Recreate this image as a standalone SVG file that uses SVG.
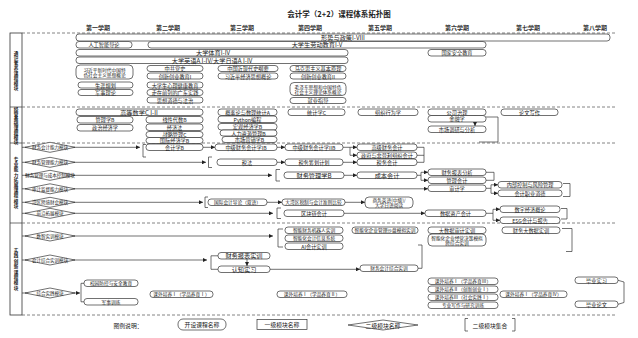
<svg xmlns="http://www.w3.org/2000/svg" width="638" height="338" viewBox="0 0 638 338">
<defs>
<style>
.b{fill:#fff;stroke:#333;stroke-width:0.7}
.t{font-family:"Noto Sans CJK SC","Liberation Sans",sans-serif;font-size:5.2px;fill:#222;text-anchor:middle;dominant-baseline:central}
.l{fill:none;stroke:#333;stroke-width:0.7}
.a{fill:none;stroke:#333;stroke-width:0.7;marker-end:url(#ah)}
.d{fill:none;stroke:#666;stroke-width:0.8;stroke-dasharray:3 2}
.dm{fill:#fff;stroke:#333;stroke-width:0.7}
.dt{font-size:4.5px}
.h{font-size:6px;font-weight:bold;fill:#333}
.s{font-size:4.6px;font-weight:bold}
.m{font-size:6.2px}
.n{font-size:4.7px}
</style>
<marker id="ah" markerWidth="4" markerHeight="4" refX="4" refY="2" orient="auto" markerUnits="userSpaceOnUse"><path d="M0,0L4,2L0,4z" fill="#222"/></marker>
</defs>
<rect width="638" height="338" fill="#fff"/>
<text class="t" x="339" y="13" style="font-size:7.5px;font-weight:bold">会计学（2+2）课程体系拓扑图</text>
<g id="semesters">
<text class="t h" x="98" y="27">第一学期</text>
<text class="t h" x="168" y="27">第二学期</text>
<text class="t h" x="242" y="27">第三学期</text>
<text class="t h" x="310" y="27">第四学期</text>
<text class="t h" x="380" y="27">第五学期</text>
<text class="t h" x="457" y="27">第六学期</text>
<text class="t h" x="528" y="27">第七学期</text>
<text class="t h" x="595" y="27">第八学期</text>
</g>
<g id="frame">
<rect x="10" y="33" width="12" height="282" fill="none" stroke="#333" stroke-width="0.8"/>
<line x1="10" y1="107" x2="22" y2="107" class="l"/>
<line x1="10" y1="143" x2="22" y2="143" class="l"/>
<line x1="10" y1="223" x2="22" y2="223" class="l"/>
<line x1="22" y1="33" x2="615" y2="33" class="d"/>
<line x1="22" y1="107" x2="615" y2="107" class="d"/>
<line x1="22" y1="143" x2="615" y2="143" class="d"/>
<line x1="22" y1="223" x2="615" y2="223" class="d"/>
<line x1="22" y1="315" x2="615" y2="315" class="d"/>
<text class="t s" x="16" y="53"><tspan x="16" dy="0">通</tspan><tspan x="16" dy="5">识</tspan><tspan x="16" dy="5">素</tspan><tspan x="16" dy="5">养</tspan><tspan x="16" dy="5">课</tspan><tspan x="16" dy="5">程</tspan><tspan x="16" dy="5">模</tspan><tspan x="16" dy="5">块</tspan></text>
<text class="t s" x="16" y="109"><tspan x="16" dy="0">经</tspan><tspan x="16" dy="4.7">管</tspan><tspan x="16" dy="4.7">基</tspan><tspan x="16" dy="4.7">础</tspan><tspan x="16" dy="4.7">课</tspan><tspan x="16" dy="4.7">程</tspan><tspan x="16" dy="4.7">模</tspan><tspan x="16" dy="4.7">块</tspan></text>
<text class="t s" x="16" y="159"><tspan x="16" dy="0">专</tspan><tspan x="16" dy="5.2">业</tspan><tspan x="16" dy="5.2">能</tspan><tspan x="16" dy="5.2">力</tspan><tspan x="16" dy="5.2">拓</tspan><tspan x="16" dy="5.2">展</tspan><tspan x="16" dy="5.2">课</tspan><tspan x="16" dy="5.2">程</tspan><tspan x="16" dy="5.2">模</tspan><tspan x="16" dy="5.2">块</tspan></text>
<text class="t s" x="16" y="250"><tspan x="16" dy="0">实</tspan><tspan x="16" dy="5.4">践</tspan><tspan x="16" dy="5.4">创</tspan><tspan x="16" dy="5.4">新</tspan><tspan x="16" dy="5.4">课</tspan><tspan x="16" dy="5.4">程</tspan><tspan x="16" dy="5.4">模</tspan><tspan x="16" dy="5.4">块</tspan></text>
</g>
<g id="connectors">
<path class="a" d="M22,147.3H140"/>
<path class="l" d="M146,144.5H143V157H146"/>
<path class="a" d="M203,147.3H215"/>
<path class="a" d="M277,147.3H285"/>
<path class="a" d="M343,147.3H357"/>
<path class="a" d="M350,147.3V155.3H357"/>
<path class="a" d="M22,162.3H206"/>
<path class="l" d="M212,157H208.5V167.5H212"/>
<path class="a" d="M277,162.3H285"/>
<path class="a" d="M343,162.3H357"/>
<path class="l" d="M417,147.3H424V162.3H417M417,155.3H424"/>
<path class="a" d="M22,175.3H272"/>
<path class="l" d="M280,169.5H276V181H280"/>
<path class="a" d="M344,175.3H357"/>
<path class="l" d="M417,175.3H421"/>
<path class="a" d="M421,172.3H428"/>
<path class="a" d="M421,175.3V180.3H428"/>
<path class="l" d="M421,175.3V172.3"/>
<path class="l" d="M486,172.3H494V180.3H486"/>
<path class="a" d="M22,188.8H428"/>
<path class="l" d="M486,188.3H491"/>
<path class="a" d="M491,188.3V184.8H498"/>
<path class="a" d="M491,188.3V193.3H498"/>
<path class="l" d="M563,183.5H570V196.5H563"/>
<path class="a" d="M22,202.3H203"/>
<path class="l" d="M208,197H205V207.5H208"/>
<path class="a" d="M267,202.3H282"/>
<path class="a" d="M345,202.3H365"/>
<path class="a" d="M22,213.3H273"/>
<path class="l" d="M281,208H277V218.5H281"/>
<path class="a" d="M344,213.3H425"/>
<path class="l" d="M486,213.3H493"/>
<path class="a" d="M493,213.3V209.3H500"/>
<path class="a" d="M493,213.3V220.3H500"/>
<path class="l" d="M561,208.5H567V219H561"/>
<path class="a" d="M475,115V126"/>
<path class="l" d="M486,117H498V142H479"/>
<path class="a" d="M22,236H273"/>
<path class="l" d="M283,229H278V247H283"/>
<path class="l" d="M562,228.5H572V251.5H566"/>
<path class="a" d="M22,260H207"/>
<path class="l" d="M218,255.8H211V269.3H218"/>
<path class="a" d="M247,259V266"/>
<path class="a" d="M270,269.3H360"/>
<path class="l" d="M418,268.3H422V245H418"/>
<path class="a" d="M22,293H80"/>
<path class="l" d="M84,283.3H81V301.8H84"/>
<path class="l" d="M618,280.3L624,282V302.5L618,304.3"/>
</g>
<g id="s1">
<g id="xszc"><rect class="b" x="76" y="34" width="534" height="7" rx="3"/><text class="t m" x="343" y="37.5">形势与政策I-VIII</text></g>
<g id="rgzn"><rect class="b" x="76" y="41.5" width="56" height="6.5" rx="3"/><text class="t" x="104" y="44.8">人工智能导论</text></g>
<g id="ldjy"><rect class="b" x="148" y="41.5" width="338" height="6.5" rx="3"/><text class="t m" x="317" y="44.8">大学生劳动教育I-V</text></g>
<g id="tiyu"><rect class="b" x="76" y="49.5" width="272" height="6.5" rx="3"/><text class="t m" x="213" y="52.8">大学体育I-IV</text></g>
<g id="gjaq"><rect class="b" x="428" y="49.5" width="58" height="6.5" rx="3"/><text class="t" x="457" y="52.8">国家安全教育</text></g>
<g id="yingyu"><rect class="b" x="76" y="57" width="272" height="6.5" rx="3"/><text class="t m" x="212" y="60.3">大学英语A I-IV/大学日语A I-IV</text></g>
<g id="xjp"><rect class="b" x="76" y="65" width="57" height="14" rx="4"/><text class="t n" x="104.5" y="69.5">习近平新时代中国特</text><text class="t n" x="104.5" y="75">色社会主义思想概论</text></g>
<g id="zgds"><rect class="b" x="147" y="65.5" width="56" height="6" rx="3"/><text class="t" x="175" y="68.5">中共党史</text></g>
<g id="cxcy1"><rect class="b" x="147" y="73" width="56" height="6" rx="3"/><text class="t" x="175" y="76">创新创业教育I</text></g>
<g id="zgjxd"><rect class="b" x="218" y="65.5" width="60" height="6" rx="3"/><text class="t" x="248" y="68.5">中国近现代史纲要</text></g>
<g id="xjpjj"><rect class="b" x="218" y="73" width="60" height="6" rx="3"/><text class="t" x="248" y="76">习近平经济思想概论</text></g>
<g id="mks"><rect class="b" x="290" y="65.5" width="56" height="6" rx="3"/><text class="t" x="318" y="68.5">马克思主义基本原理</text></g>
<g id="cxcy2"><rect class="b" x="290" y="73" width="56" height="6" rx="3"/><text class="t" x="318" y="76">创新创业教育II</text></g>
<g id="mzd"><rect class="b" x="290" y="82.5" width="56" height="13" rx="4"/><text class="t n" x="318" y="86.5">毛泽东思想和中国特色</text><text class="t n" x="318" y="92">社会主义理论体系概论</text></g>
<g id="jyzd"><rect class="b" x="290" y="97.5" width="56" height="6" rx="3"/><text class="t" x="318" y="100.5">就业指导</text></g>
<g id="syg"><rect class="b" x="78" y="82" width="55" height="6" rx="3"/><text class="t" x="105.5" y="85">生涯规划</text></g>
<g id="jsll"><rect class="b" x="78" y="89.5" width="55" height="6" rx="3"/><text class="t" x="105.5" y="92.5">军事理论</text></g>
<g id="xljk"><rect class="b" x="147" y="82" width="56" height="6" rx="3"/><text class="t" x="175" y="85">大学生心理健康教育</text></g>
<g id="gdsj"><rect class="b" x="147" y="89.5" width="56" height="6" rx="3"/><text class="t" x="175" y="92.5">走在前列的广东实践</text></g>
<g id="sxdd"><rect class="b" x="147" y="97" width="56" height="6" rx="3"/><text class="t" x="175" y="100">思想道德与法治</text></g>
</g>
<g id="s2">
<g id="gdsx"><rect class="b" x="76" y="109" width="127" height="6.5" rx="3"/><text class="t m" x="139" y="112.3">高等数学C I-II</text></g>
<g id="glx"><rect class="b" x="77" y="116.5" width="56" height="6.5" rx="3"/><text class="t" x="105" y="119.8">管理学B</text></g>
<g id="zzjj"><rect class="b" x="77" y="124.5" width="56" height="6.5" rx="3"/><text class="t" x="105" y="127.8">政治经济学</text></g>
<g id="xxds"><rect class="b" x="146" y="116.5" width="57" height="6.5" rx="3"/><text class="t" x="174.5" y="119.8">线性代数B</text></g>
<g id="jjf"><rect class="b" x="146" y="124" width="57" height="6.5" rx="3"/><text class="t" x="174.5" y="127.3">经济法</text></g>
<g id="zlgl"><rect class="b" x="146" y="131.5" width="57" height="6" rx="3"/><text class="t" x="174.5" y="134.5">战略管理C</text></g>
<g id="gjjj"><rect class="b" x="146" y="137.5" width="57" height="6" rx="3"/><text class="t" x="174.5" y="140.5">国际经济学B</text></g>
<g id="gll"><rect class="b" x="218" y="109" width="59" height="6.5" rx="3"/><text class="t" x="247.5" y="112.3">概率论与数理统计A</text></g>
<g id="py"><rect class="b" x="218" y="116" width="59" height="6.5" rx="3"/><text class="t" x="247.5" y="119.3">Python编程</text></g>
<g id="hgjj"><rect class="b" x="218" y="123.5" width="59" height="6.5" rx="3"/><text class="t" x="247.5" y="126.8">宏观经济学B</text></g>
<g id="rlzy"><rect class="b" x="220" y="130" width="57" height="6" rx="3"/><text class="t" x="248.5" y="133">人力资源管理B</text></g>
<g id="scyx"><rect class="b" x="222" y="136.5" width="55" height="6" rx="3"/><text class="t" x="249.5" y="139.5">市场营销学B</text></g>
<g id="tjx"><rect class="b" x="288" y="109" width="57" height="6.5" rx="3"/><text class="t" x="316.5" y="112.3">统计学C</text></g>
<g id="zzxw"><rect class="b" x="358" y="109" width="60" height="6.5" rx="3"/><text class="t" x="388" y="112.3">组织行为学</text></g>
<g id="gszl"><rect class="b" x="428" y="109" width="58" height="6.5" rx="3"/><text class="t" x="457" y="112.3">公司治理</text></g>
<g id="jrx"><rect class="b" x="428" y="115.5" width="58" height="6.5" rx="3"/><text class="t" x="457" y="118.8">金融学</text></g>
<g id="scdy"><rect class="b" x="428" y="126" width="58" height="6.5" rx="3"/><text class="t" x="457" y="129.3">市场调研与分析</text></g>
<g id="lwxz"><rect class="b" x="501" y="109" width="57" height="6.5" rx="3"/><text class="t" x="529.5" y="112.3">论文写作</text></g>
</g>
<g id="s3">
<g id="dm1"><path class="dm" d="M25,147.3L50,142.3L75,147.3L50,152.3Z"/><text class="t dt" x="50" y="147.3">财务会计能力模块</text></g>
<g id="dm2"><path class="dm" d="M25,162.3L50,157.3L75,162.3L50,167.3Z"/><text class="t dt" x="50" y="162.3">财务管理能力模块</text></g>
<g id="dm3"><path class="dm" d="M25,175.3L50,170.3L75,175.3L50,180.3Z"/><text class="t dt" x="50" y="175.3">财务管理与成本控制模块</text></g>
<g id="dm4"><path class="dm" d="M25,188.8L50,183.8L75,188.8L50,193.8Z"/><text class="t dt" x="50" y="188.8">审计监督能力模块</text></g>
<g id="dm5"><path class="dm" d="M25,202.3L50,197.3L75,202.3L50,207.3Z"/><text class="t dt" x="50" y="202.3">湾区跨境财会模块</text></g>
<g id="dm6"><path class="dm" d="M25,213.3L50,208.3L75,213.3L50,218.3Z"/><text class="t dt" x="50" y="213.3">前沿拓展模块</text></g>
<g id="kjxb"><rect class="b" x="146" y="144" width="57" height="6.5" rx="3"/><text class="t" x="174.5" y="147.3">会计学B</text></g>
<g id="zj1"><rect class="b" x="215" y="144" width="62" height="6.5" rx="3"/><text class="t" x="246" y="147.3">中级财务会计学IB</text></g>
<g id="zj2"><rect class="b" x="285" y="144" width="58" height="6.5" rx="3"/><text class="t" x="314" y="147.3">中级财务会计学IIB</text></g>
<g id="gjcw"><rect class="b" x="357" y="144" width="60" height="6.5" rx="3"/><text class="t" x="387" y="147.3">高级财务会计</text></g>
<g id="zfky"><rect class="b" x="357" y="152" width="60" height="6.5" rx="3"/><text class="t" x="387" y="155.3">政府与非营利组织会计</text></g>
<g id="sf"><rect class="b" x="217" y="159" width="60" height="6.5" rx="3"/><text class="t" x="247" y="162.3">税法</text></g>
<g id="swch"><rect class="b" x="285" y="159" width="58" height="6.5" rx="3"/><text class="t" x="314" y="162.3">税务筹划计划</text></g>
<g id="swkj"><rect class="b" x="357" y="159" width="60" height="6.5" rx="3"/><text class="t" x="387" y="162.3">税务会计</text></g>
<g id="cwgl"><rect class="b" x="284" y="172" width="60" height="6.5" rx="3"/><text class="t m" x="314" y="175.3">财务管理学B</text></g>
<g id="cbkj"><rect class="b" x="357" y="172" width="60" height="6.5" rx="3"/><text class="t m" x="387" y="175.3">成本会计</text></g>
<g id="cwbb"><rect class="b" x="428" y="169" width="58" height="6.5" rx="3"/><text class="t" x="457" y="172.3">财务报表分析</text></g>
<g id="glkj"><rect class="b" x="428" y="177" width="58" height="6.5" rx="3"/><text class="t" x="457" y="180.3">管理会计</text></g>
<g id="sjx"><rect class="b" x="428" y="185" width="58" height="6.5" rx="3"/><text class="t" x="457" y="188.3">审计学</text></g>
<g id="nbkz"><rect class="b" x="498" y="181.5" width="64" height="6.5" rx="3"/><text class="t" x="530" y="184.8">内部控制与风险管理</text></g>
<g id="kjzy"><rect class="b" x="498" y="190" width="64" height="6.5" rx="3"/><text class="t" x="530" y="193.3">会计职业道德</text></g>
<g id="gjkj"><rect class="b" x="208" y="199" width="59" height="6.5" rx="3"/><text class="t n" x="237.5" y="202.3">国际会计导论（双语）</text></g>
<g id="dwq"><rect class="b" x="282" y="199" width="63" height="6.5" rx="3"/><text class="t n" x="313.5" y="202.3">大湾区税制与会计准则比较</text></g>
<g id="swyy"><rect class="b" x="365" y="197" width="48" height="11" rx="4"/><text class="t n" x="389" y="200">商务英语(中级)/</text><text class="t n" x="389" y="205">大学日语阅读</text></g>
<g id="qkl"><rect class="b" x="284" y="210" width="60" height="6.5" rx="3"/><text class="t" x="314" y="213.3">区块链会计</text></g>
<g id="sjzc"><rect class="b" x="425" y="210" width="61" height="6.5" rx="3"/><text class="t" x="455.5" y="213.3">数据资产会计</text></g>
<g id="szjj"><rect class="b" x="500" y="206" width="60" height="6.5" rx="3"/><text class="t" x="530" y="209.3">数字经济概论</text></g>
<g id="esg"><rect class="b" x="500" y="217" width="60" height="6.5" rx="3"/><text class="t" x="530" y="220.3">ESG会计与报告</text></g>
</g>
<g id="s4">
<g id="dm7"><path class="dm" d="M25,236L50,231L75,236L50,241Z"/><text class="t dt" x="50" y="236">数智实训模块</text></g>
<g id="dm8"><path class="dm" d="M25,260L50,255L75,260L50,265Z"/><text class="t dt" x="50" y="260">会计综合实训模块</text></g>
<g id="dm9"><path class="dm" d="M25,293L50,288L75,293L50,298Z"/><text class="t dt" x="50" y="293">综合实践模块</text></g>
<g id="znjqr"><rect class="b" x="285" y="227" width="58" height="6.5" rx="3"/><text class="t n" x="314" y="230.3">智能财务机器人实训</text></g>
<g id="znkj"><rect class="b" x="285" y="235" width="58" height="6.5" rx="3"/><text class="t n" x="314" y="238.3">智能化会计信息系统</text></g>
<g id="aikj"><rect class="b" x="285" y="243" width="58" height="6.5" rx="3"/><text class="t" x="314" y="246.3">AI会计实训</text></g>
<g id="znsp"><rect class="b" x="352" y="227" width="66" height="6.5" rx="3"/><text class="t n" x="385" y="230.3">智能化企业管理沙盘模拟实训</text></g>
<g id="dsjsj"><rect class="b" x="428" y="227" width="58" height="6.5" rx="3"/><text class="t" x="457" y="230.3">大数据审计实训</text></g>
<g id="znjy"><rect class="b" x="428" y="234" width="58" height="12" rx="4"/><text class="t n" x="457" y="237.5">智能化企业经营决策模拟</text><text class="t n" x="457" y="242.5">跨综合实训</text></g>
<g id="cwdsj"><rect class="b" x="502" y="227" width="58" height="6.5" rx="3"/><text class="t" x="531" y="230.3">财务大数据实训</text></g>
<g id="cwbbsx"><rect class="b" x="218" y="252.5" width="52" height="6.5" rx="3"/><text class="t m" x="244" y="255.8">财务报表实训</text></g>
<g id="rzsx"><rect class="b" x="218" y="266" width="52" height="6.5" rx="3"/><text class="t m" x="244" y="269.3">认知实习</text></g>
<g id="cwkjzh"><rect class="b" x="360" y="265" width="58" height="6.5" rx="3"/><text class="t n" x="389" y="268.3">财务会计综合实训</text></g>
<g id="xyaq"><rect class="b" x="84" y="280" width="54" height="6.5" rx="3"/><text class="t n" x="111" y="283.3">校园防控与安全教育</text></g>
<g id="jsxl"><rect class="b" x="84" y="298.5" width="54" height="6.5" rx="3"/><text class="t n" x="111" y="301.8">军事训练</text></g>
<g id="kw1"><rect class="b" x="150" y="291" width="63" height="6.5" rx="3"/><text class="t n" x="181.5" y="294.3">课外培养Ⅰ（学品养育Ⅰ）</text></g>
<g id="kw2"><rect class="b" x="277" y="291" width="70" height="6.5" rx="3"/><text class="t n" x="312" y="294.3">课外培养Ⅰ（学品养育Ⅱ）</text></g>
<g id="kw3"><rect class="b" x="428" y="278" width="70" height="6.5" rx="3"/><text class="t n" x="463" y="281.3">课外培养Ⅰ（学品养育Ⅲ）</text></g>
<g id="kw4"><rect class="b" x="428" y="286" width="70" height="6.5" rx="3"/><text class="t n" x="463" y="289.3">课外培养Ⅱ（创新创业Ⅰ）</text></g>
<g id="kw5"><rect class="b" x="428" y="294" width="70" height="6.5" rx="3"/><text class="t n" x="463" y="297.3">课外培养Ⅲ（社会实践Ⅰ）</text></g>
<g id="zyxz"><rect class="b" x="428" y="302" width="70" height="6.5" rx="3"/><text class="t n" x="463" y="305.3">专业写作与研究训练</text></g>
<g id="kw6"><rect class="b" x="500" y="291" width="67" height="6.5" rx="3"/><text class="t n" x="533.5" y="294.3">课外培养Ⅰ（学品养育Ⅳ）</text></g>
<g id="bysx"><rect class="b" x="575" y="277" width="43" height="6.5" rx="3"/><text class="t" x="596.5" y="280.3">毕业实习</text></g>
<g id="bylw"><rect class="b" x="575" y="301" width="43" height="6.5" rx="3"/><text class="t" x="596.5" y="304.3">毕业论文</text></g>
</g>
<g id="legend">
<text class="t" x="128" y="325" style="font-size:5.8px">图例说明：</text>
<rect class="b" x="178" y="319" width="48" height="11" rx="5"/><text class="t" x="202" y="324.5" style="font-size:5.8px">开设课程名称</text>
<rect class="b" x="257" y="319.5" width="50" height="10"/><text class="t" x="282" y="324.5" style="font-size:5.8px">一级模块名称</text>
<path class="dm" d="M348,325L383,320L418,325L383,330Z"/><text class="t" x="383" y="325" style="font-size:5.8px">二级模块名称</text>
<path class="l" d="M468,318.5H465V331H468M512,318.5H515V331H512"/><text class="t" x="490" y="325" style="font-size:5.8px">二级模块集合</text>
</g>
</svg>
